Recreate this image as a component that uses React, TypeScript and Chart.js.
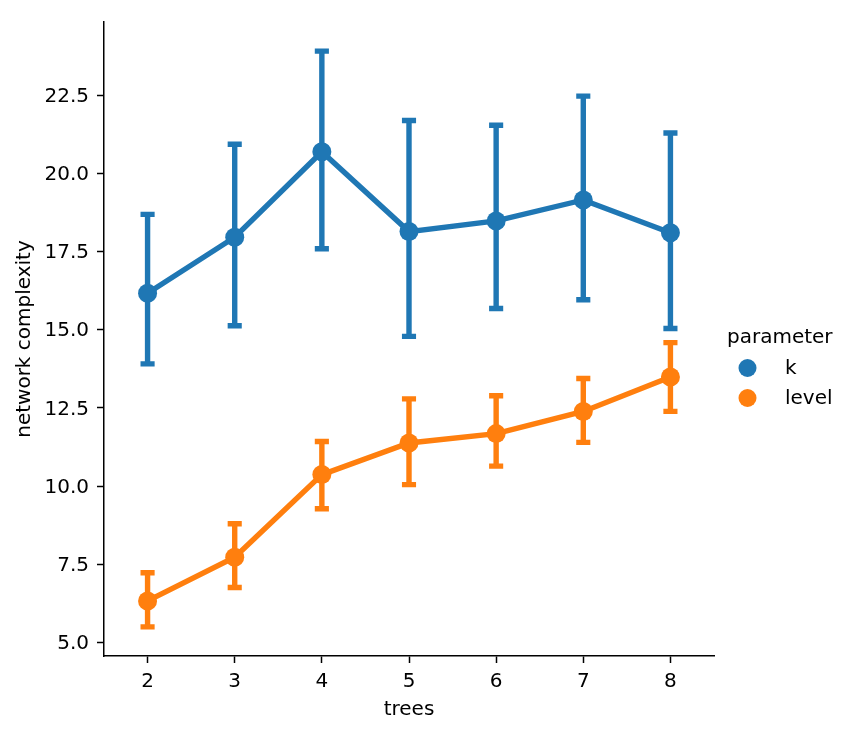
import React, { useEffect, useRef } from "react";
import { Chart, registerables } from "chart.js";

Chart.register(...registerables);

// Point estimates with confidence intervals per number of trees
const trees = ["2", "3", "4", "5", "6", "7", "8"];

const kMean = [16.17, 17.96, 20.69, 18.14, 18.48, 19.15, 18.1];
const kLow = [13.91, 15.13, 17.59, 14.79, 15.68, 15.96, 15.04];
const kHigh = [18.69, 20.93, 23.91, 21.69, 21.54, 22.47, 21.29];

const levelMean = [6.33, 7.73, 10.37, 11.38, 11.68, 12.39, 13.49];
const levelLow = [5.5, 6.76, 9.28, 10.05, 10.64, 11.4, 12.39];
const levelHigh = [7.23, 8.8, 11.43, 12.79, 12.89, 13.44, 14.59];

const yTicks = [5.0, 7.5, 10.0, 12.5, 15.0, 17.5, 20.0, 22.5];

const BLUE = "#1f77b4";
const ORANGE = "#ff7f0e";
const FONT = "DejaVu Sans";
const LW = 5.4;

const seriesNames = ["k", "level"];
const seriesColors = [BLUE, ORANGE];
const lows = [kLow, levelLow];
const highs = [kHigh, levelHigh];

const errorBars = {
  id: "errorBars",
  beforeDatasetsDraw(chart: any) {
    const { ctx } = chart;
    const xs = chart.scales.x;
    const ys = chart.scales.y;
    const capHalf = xs.getPixelForValue(0.05) - xs.getPixelForValue(0);
    ctx.save();
    ctx.lineWidth = LW;
    ctx.lineCap = "square";
    for (let s = 0; s < lows.length; s++) {
      ctx.strokeStyle = seriesColors[s];
      for (let i = 0; i < trees.length; i++) {
        const x = xs.getPixelForValue(i);
        const yl = ys.getPixelForValue(lows[s][i]);
        const yh = ys.getPixelForValue(highs[s][i]);
        ctx.beginPath();
        ctx.moveTo(x, yl);
        ctx.lineTo(x, yh);
        ctx.moveTo(x - capHalf, yl);
        ctx.lineTo(x + capHalf, yl);
        ctx.moveTo(x - capHalf, yh);
        ctx.lineTo(x + capHalf, yh);
        ctx.stroke();
      }
    }
    ctx.restore();
  },
};

const sideLegend = {
  id: "sideLegend",
  afterDraw(chart: any) {
    const { ctx } = chart;
    ctx.save();
    ctx.font = `20px "${FONT}"`;
    ctx.fillStyle = "#000";
    ctx.textBaseline = "alphabetic";
    ctx.textAlign = "left";
    ctx.fillText("parameter", 727, 343);
    const rows = [368, 398];
    for (let s = 0; s < seriesNames.length; s++) {
      ctx.fillStyle = seriesColors[s];
      ctx.beginPath();
      ctx.arc(747.5, rows[s], 9, 0, Math.PI * 2);
      ctx.fill();
      ctx.fillStyle = "#000";
      ctx.fillText(seriesNames[s], 785, rows[s] + 6);
    }
    ctx.restore();
  },
};

export default function App() {
  const ref = useRef<HTMLCanvasElement | null>(null);

  useEffect(() => {
    if (!ref.current) return;
    Chart.defaults.font.family = FONT;
    Chart.defaults.font.size = 20;
    Chart.defaults.color = "#000";

    const mkSet = (label: string, data: number[], color: string) => ({
      label,
      data,
      borderColor: color,
      backgroundColor: color,
      borderWidth: LW,
      pointRadius: 9.5,
      pointHoverRadius: 9.5,
      pointBorderWidth: 0,
      pointBackgroundColor: color,
      tension: 0,
    });

    const chart = new Chart(ref.current, {
      type: "line",
      data: {
        labels: trees,
        datasets: [mkSet("k", kMean, BLUE), mkSet("level", levelMean, ORANGE)],
      },
      plugins: [errorBars, sideLegend],
      options: {
        animation: false,
        responsive: false,
        events: [],
        layout: { padding: { top: 22, right: 141, left: 0, bottom: 0 } },
        plugins: { legend: { display: false }, tooltip: { enabled: false } },
        scales: {
          x: {
            type: "category",
            offset: true,
            grid: {
              display: true,
              drawOnChartArea: false,
              drawTicks: true,
              tickLength: 7,
              tickWidth: 1.5,
              tickColor: "#000",
            },
            border: { display: true, color: "#000", width: 1.5 },
            ticks: { padding: 7, color: "#000", font: { size: 20 } },
            title: {
              display: true,
              text: "trees",
              color: "#000",
              font: { size: 20 },
              padding: { top: 0, bottom: 14 },
            },
            afterFit(scale: any) {
              scale.height = 80;
            },
          },
          y: {
            type: "linear",
            min: 4.57,
            max: 24.84,
            grid: {
              display: true,
              drawOnChartArea: false,
              drawTicks: true,
              tickLength: 7,
              tickWidth: 1.5,
              tickColor: "#000",
            },
            border: { display: true, color: "#000", width: 1.5 },
            ticks: {
              padding: 8,
              labelOffset: 1.5,
              color: "#000",
              font: { size: 20 },
              callback: (v: any) => Number(v).toFixed(1),
            },
            afterBuildTicks(scale: any) {
              scale.ticks = yTicks.map((value) => ({ value }));
            },
            title: {
              display: true,
              text: "network complexity",
              color: "#000",
              font: { size: 20 },
              padding: { top: 13, bottom: 0 },
            },
            afterFit(scale: any) {
              scale.width = 104;
            },
          },
        },
      },
    } as any);

    return () => chart.destroy();
  }, []);

  return (
    <div style={{ position: "absolute", left: 0, top: 0, width: 855, height: 736, background: "#fff" }}>
      <canvas ref={ref} width={855} height={736} style={{ width: 855, height: 736 }} />
    </div>
  );
}
